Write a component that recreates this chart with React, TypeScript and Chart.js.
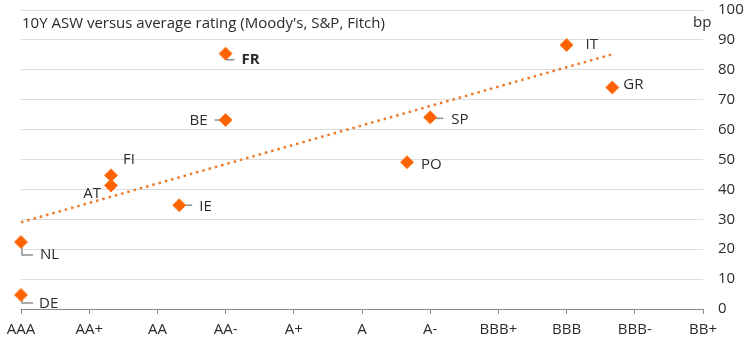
import React, { useEffect, useRef } from "react";
import { Chart, registerables } from "chart.js";

Chart.register(...registerables);

// ---- data ----
const ratingLabels = ["AAA", "AA+", "AA", "AA-", "A+", "A", "A-", "BBB+", "BBB", "BBB-", "BB+"];
const yTickValues = [0, 10, 20, 30, 40, 50, 60, 70, 80, 90, 100];
const countries = ["DE", "NL", "AT", "FI", "IE", "FR", "BE", "SP", "PO", "IT", "GR"];
const ratingScore = [0, 0, 1.32, 1.32, 2.32, 3.0, 3.0, 6.0, 5.66, 8.0, 8.67];
const aswBp = [4.7, 22.4, 41.3, 44.7, 34.7, 85.4, 63.2, 64.1, 49.1, 88.3, 74.1];
const trendX = [0, 8.67];
const trendY = [29, 85.2];
const titleText = "10Y ASW versus average rating (Moody's, S&P, Fitch)";
const unitText = "bp";

// ---- label layout (pixel offsets from the marker) ----
type LabelCfg = { dx: number; dy: number; align: CanvasTextAlign; bold?: boolean; leader?: number[][] };
const labelLayout: Record<string, LabelCfg> = {
  DE: { dx: 18, dy: 9, align: "left", leader: [[1, 1], [1, 8], [12, 8]] },
  NL: { dx: 19, dy: 13, align: "left", leader: [[1, 1], [1, 13], [12, 13]] },
  AT: { dx: -10, dy: 8, align: "right" },
  FI: { dx: 12, dy: -16, align: "left" },
  IE: { dx: 20, dy: 1, align: "left", leader: [[0, 0], [13, 0]] },
  FR: { dx: 16, dy: 6.5, align: "left", bold: true, leader: [[1, 1], [1, 6], [9, 6]] },
  BE: { dx: -18, dy: 1, align: "right", leader: [[0, 0], [-11, 0]] },
  SP: { dx: 21, dy: 2, align: "left", leader: [[0, 1], [13, 1]] },
  PO: { dx: 14, dy: 3, align: "left" },
  IT: { dx: 19, dy: 0, align: "left" },
  GR: { dx: 11, dy: -3, align: "left" },
};

const FONT = "'Open Sans', 'Noto Sans', sans-serif";
const TEXT = "#2b2b2b";
const ORANGE = "#FF6200";

const countryLabelPlugin = {
  id: "countryLabels",
  beforeDatasetsDraw(chart: any) {
    const ctx = chart.ctx as CanvasRenderingContext2D;
    const meta = chart.getDatasetMeta(1);
    ctx.save();
    ctx.strokeStyle = "#8f8f8f";
    ctx.lineWidth = 1.5;
    meta.data.forEach((pt: any, i: number) => {
      const cfg = labelLayout[countries[i]];
      if (!cfg || !cfg.leader) return;
      ctx.beginPath();
      cfg.leader.forEach((p, j) => {
        if (j === 0) ctx.moveTo(pt.x + p[0], pt.y + p[1]);
        else ctx.lineTo(pt.x + p[0], pt.y + p[1]);
      });
      ctx.stroke();
    });
    ctx.restore();
  },
  afterDraw(chart: any) {
    const ctx = chart.ctx as CanvasRenderingContext2D;
    const meta = chart.getDatasetMeta(1);
    ctx.save();
    ctx.fillStyle = TEXT;
    ctx.textBaseline = "middle";
    meta.data.forEach((pt: any, i: number) => {
      const cfg = labelLayout[countries[i]];
      if (!cfg) return;
      ctx.font = `${cfg.bold ? "bold " : ""}15px ${FONT}`;
      ctx.textAlign = cfg.align;
      ctx.fillText(countries[i], pt.x + cfg.dx, pt.y + cfg.dy);
    });
    ctx.textAlign = "left";
    ctx.textBaseline = "alphabetic";
    ctx.font = `15px ${FONT}`;
    ctx.fillText(titleText, 22, 28);
    ctx.fillText(unitText, 693, 27);
    ctx.restore();
  },
};

export default function App() {
  const ref = useRef<HTMLCanvasElement | null>(null);

  useEffect(() => {
    if (!ref.current) return;
    const chart = new Chart(ref.current, {
      type: "scatter",
      data: {
        datasets: [
          {
            type: "line",
            data: trendX.map((x, i) => ({ x, y: trendY[i] })),
            borderColor: "#EE7A2C",
            borderWidth: 2.5,
            borderDash: [2.5, 4],
            pointRadius: 0,
            fill: false,
            clip: false,
            order: 2,
          } as any,
          {
            data: ratingScore.map((x, i) => ({ x, y: aswBp[i] })),
            pointStyle: "rectRot",
            pointRadius: 6.5,
            backgroundColor: ORANGE,
            borderColor: "#FF7A26",
            borderWidth: 1,
            clip: false,
            order: 1,
          } as any,
        ],
      },
      options: {
        responsive: false,
        animation: false,
        layout: { padding: { left: 21, top: 10, right: 0, bottom: 0 } },
        plugins: { legend: { display: false }, tooltip: { enabled: false } },
        scales: {
          x: {
            type: "linear",
            position: "bottom",
            min: 0,
            max: 10,
            afterBuildTicks: (scale: any) => {
              scale.ticks = ratingLabels.map((_, i) => ({ value: i }));
            },
            afterFit: (scale: any) => {
              scale.height = 34;
              scale.paddingLeft = 0;
              scale.paddingRight = 0;
            },
            ticks: {
              autoSkip: false,
              maxRotation: 0,
              padding: 7,
              color: TEXT,
              font: { family: FONT, size: 15 },
              callback: (v: any) => ratingLabels[Math.round(v)] ?? "",
            },
            grid: { drawOnChartArea: false, drawTicks: true, tickLength: 5, color: "#8a8a8a", lineWidth: 1 },
            border: { display: true, color: "#8a8a8a", width: 1 },
          },
          y: {
            type: "linear",
            position: "right",
            min: 0,
            max: 100,
            afterBuildTicks: (scale: any) => {
              scale.ticks = yTickValues.map((v) => ({ value: v }));
            },
            afterFit: (scale: any) => {
              scale.width = 44;
              scale.paddingTop = 0;
              scale.paddingBottom = 0;
            },
            ticks: {
              autoSkip: false,
              padding: 15,
              color: TEXT,
              font: { family: FONT, size: 15 },
              callback: (v: any) => String(v),
            },
            grid: {
              drawTicks: false,
              color: (c: any) => (c.tick && c.tick.value === 0 ? "rgba(0,0,0,0)" : "#dcdcdc"),
              lineWidth: 1,
            },
            border: { display: false },
          },
        },
      },
      plugins: [countryLabelPlugin],
    });
    return () => chart.destroy();
  }, []);

  return (
    <div style={{ position: "fixed", left: 0, top: 0, width: 747, height: 343, background: "#fff" }}>
      <canvas ref={ref} width={747} height={343} style={{ display: "block", width: 747, height: 343 }} />
    </div>
  );
}
